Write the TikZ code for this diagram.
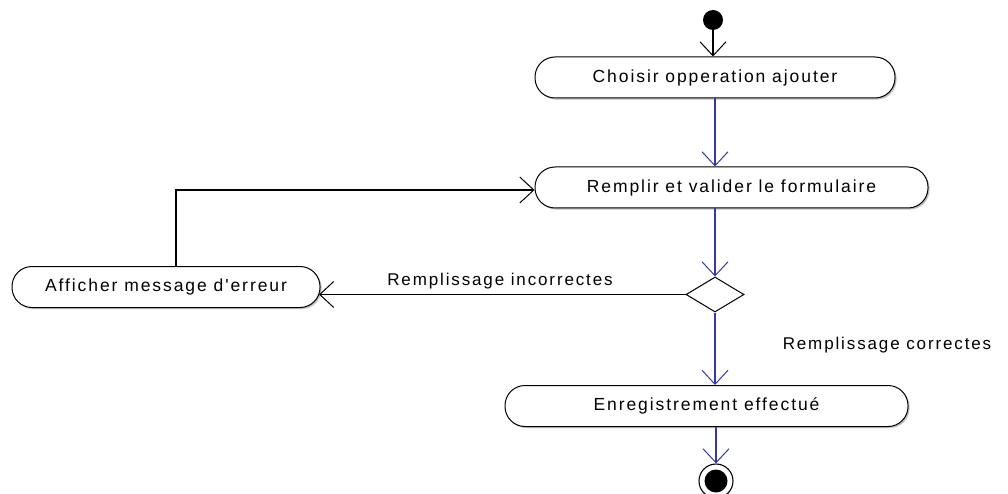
\documentclass[tikz,border=0pt]{standalone}
\usepackage{fontspec}
\setmainfont{Liberation Sans}[LetterSpace=11, Ligatures=TeXOff]
\usetikzlibrary{arrows.meta,shapes.geometric,shadows}

\definecolor{flowblue}{RGB}{52,56,170}
\definecolor{shadowgray}{RGB}{150,150,150}

\tikzset{
  activity/.style={draw=black, line width=1pt, fill=white, rounded corners=20pt,
    minimum height=41pt, inner sep=0pt, font=\fontsize{17.5}{20}\selectfont,
    drop shadow={shadow xshift=1.6pt, shadow yshift=-1.6pt, fill=shadowgray, opacity=0.6}},
  decision/.style={draw=black, line width=1pt, fill=white, diamond, inner sep=0pt,
    minimum width=58pt, minimum height=35pt},
  startdot/.style={circle, fill=black, minimum size=20pt, inner sep=0pt},
  enddot/.style={circle, draw=black, line width=1.1pt, fill=white, minimum size=34pt, inner sep=0pt},
  vtip/.style={-{Straight Barb[length=14pt, width=26pt, line width=1pt]}},
  blueflow/.style={vtip, draw=flowblue, line width=1.15pt},
  blackflow/.style={vtip, draw=black, line width=1.1pt},
  guard/.style={font=\fontsize{17}{20}\selectfont}
}

\begin{document}
\begin{tikzpicture}[x=1pt, y=-1pt]
  \useasboundingbox (0,0) rectangle (1008,494);

  % nodes
  \node[startdot] (start) at (713,20) {};
  \node[activity, minimum width=360pt] (choisir) at (715,77.5) {Choisir opperation ajouter};
  \node[activity, minimum width=393pt] (remplir) at (731.5,187.5) {Remplir et valider le formulaire};
  \node[activity, minimum width=308pt] (afficher) at (166,287) {Afficher message d'erreur};
  \node[decision] (choix) at (715,294.5) {};
  \node[activity, minimum width=403pt] (enreg) at (706.5,406) {Enregistrement effectué};
  \node[enddot] (fin) at (716,481) {};
  \fill[black] (fin) circle (11.5pt);

  % guard labels
  \node[guard] (lblko) at (500,281) {Remplissage incorrectes};
  \node[guard] (lblok) at (887,345) {Remplissage correctes};

  % connectors
  \draw[blackflow] (start.south) -- (start.south |- choisir.north);
  \draw[blueflow] (choisir.south) -- (choisir.south |- remplir.north);
  \draw[blueflow] (choisir.south |- remplir.south) -- (choix.north);
  \draw[blackflow] (choix.west) -- ([xshift=-1.5pt]choix.west -| afficher.east);
  \draw[blackflow] ([xshift=10pt]afficher.north) |- ([yshift=-2.5pt]remplir.west);
  \draw[blueflow] (choix.south) -- (choix.south |- enreg.north);
  \draw[blueflow] (fin.north |- enreg.south) -- (fin.north);
\end{tikzpicture}
\end{document}
